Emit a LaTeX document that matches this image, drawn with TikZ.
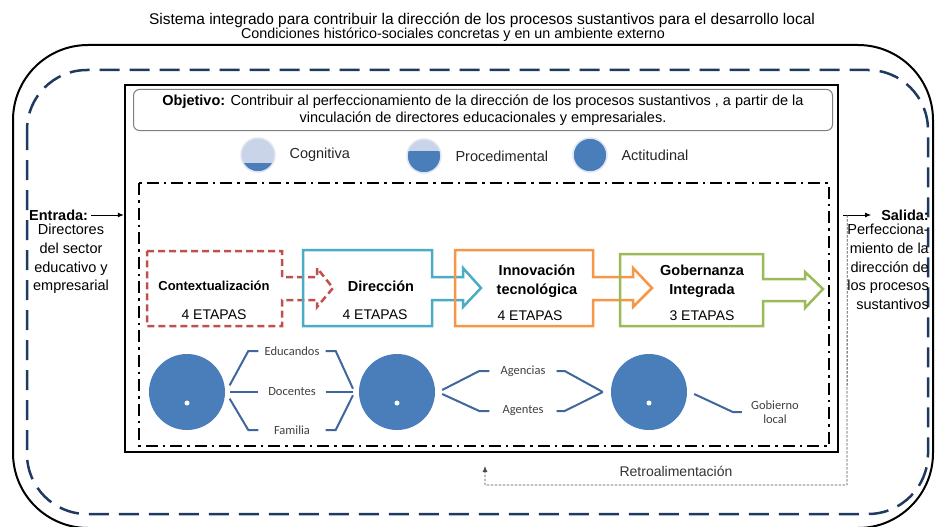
\documentclass[tikz,border=0pt]{standalone}
\usepackage{fontspec}
\setmainfont{Liberation Sans}
\newfontfamily\calfont{Carlito}
\usetikzlibrary{arrows.meta}

\definecolor{navy}{HTML}{1F3A60}
\definecolor{ctxred}{HTML}{C0504D}
\definecolor{dirblue}{HTML}{4BACC6}
\definecolor{innorange}{HTML}{F79646}
\definecolor{gobgreen}{HTML}{9BBB59}
\definecolor{dotblue}{HTML}{4A7EBB}
\definecolor{paleblue}{HTML}{C9D4E8}
\definecolor{linkblue}{HTML}{3F679B}

\tikzset{
  etapa/.style={line width=2.5pt, miter limit=10},
  etapatxt/.style={font=\bfseries\fontsize{14.5}{19}\selectfont, align=center, inner sep=0pt},
  etapanum/.style={font=\fontsize{14}{16}\selectfont, inner sep=0pt},
  bigdot/.style={circle, fill=dotblue, minimum size=76pt, inner sep=0pt},
  legdot/.style={circle, fill=paleblue, draw=paleblue!60, line width=1.5pt, minimum size=34pt, inner sep=0pt},
  legtxt/.style={font=\fontsize{14.5}{17}\selectfont, anchor=west, text=black!85},
  lbl/.style={font=\calfont\fontsize{12.5}{14}\selectfont, text=black!75, minimum width=67pt, inner sep=0pt, align=center},
  link/.style={linkblue, line width=2pt},
  sidetxt/.style={font=\fontsize{14.5}{18.7}\selectfont, inner sep=0pt},
  arr/.style={-{Latex[length=6pt,width=5pt]}, line width=0.8pt}
}

\begin{document}
\begin{tikzpicture}[x=1pt, y=-1pt]
\useasboundingbox (0,0) rectangle (935,527);

% titulo
\node[font=\fontsize{15.5}{18}\selectfont] (tit) at (482,20) {Sistema integrado para contribuir la dirección de los procesos sustantivos para el desarrollo local};
\node[font=\fontsize{14.3}{16}\selectfont] (sub) at (453,35) {Condiciones histórico-sociales concretas y en un ambiente externo};

% contornos
\draw[line width=2pt, rounded corners=75pt] (13,45) rectangle (933,528);
\draw[navy, line width=2.5pt, dash pattern=on 20pt off 10pt, rounded corners=60pt] (27,70) rectangle (928,514);
\node[draw, line width=2.5pt, minimum width=713pt, minimum height=367pt, inner sep=0pt] (sys) at (481.5,268.5) {};

% objetivo
\node[draw=gray, rounded corners=6pt, line width=1pt, minimum width=699pt, minimum height=41pt, align=center,
  font=\fontsize{14.5}{17}\selectfont] (obj) at (483,110)
  {\textbf{Objetivo:} Contribuir al perfeccionamiento de la dirección de los procesos sustantivos , a partir de la\\
   vinculación de directores educacionales y empresariales.};

% leyenda
\node[legdot, path picture={\fill[dotblue] ([yshift=-8pt]path picture bounding box.west) rectangle (path picture bounding box.south east);}] (cog) at (258,155) {};
\node[legtxt] at (286,155) {Cognitiva};
\node[legdot, path picture={\fill[dotblue] ([yshift=5pt]path picture bounding box.west) rectangle (path picture bounding box.south east);}] (proc) at (424,156) {};
\node[legtxt] at (452,156) {Procedimental};
\node[legdot, fill=dotblue] (act) at (590,155) {};
\node[legtxt] at (618,155) {Actitudinal};

% marco de etapas
\draw[line width=2.5pt, dash pattern=on 12pt off 5pt on 2.5pt off 5pt] (139,183) rectangle (829,446);

% etapas
\draw[etapa, ctxred, dash pattern=on 7pt off 4pt] (147,251) -- (282,251) -- (282,277) -- (317,277) -- (317,268) -- (333,288) -- (317,307) -- (317,300) -- (282,300) -- (282,326) -- (147,326) -- cycle;
\draw[etapa, dirblue] (303,250) -- (432,250) -- (432,277) -- (463,277) -- (463,268) -- (481,288) -- (463,307) -- (463,300) -- (432,300) -- (432,326) -- (303,326) -- cycle;
\draw[etapa, innorange] (455,250) -- (593,250) -- (593,277) -- (633,277) -- (633,268) -- (652,288) -- (633,307) -- (633,300) -- (593,300) -- (593,326) -- (455,326) -- cycle;
\draw[etapa, gobgreen] (620,254) -- (763,254) -- (763,279) -- (805,279) -- (805,272) -- (823,289) -- (805,308) -- (805,301) -- (763,301) -- (763,326) -- (620,326) -- cycle;

\node[etapatxt, font=\bfseries\fontsize{13}{15}\selectfont] (ctx) at (214,286) {Contextualización};
\node[etapanum] (ctxn) at (214,315) {4 ETAPAS};
\node[etapatxt] (dir) at (381,286) {Dirección};
\node[etapanum] (dirn) at (375,315) {4 ETAPAS};
\node[etapatxt] (inn) at (537,281) {Innovación\\tecnológica};
\node[etapanum] (innn) at (530,316) {4 ETAPAS};
\node[etapatxt] (gob) at (702,281) {Gobernanza\\Integrada};
\node[etapanum] (gobn) at (702,316) {3 ETAPAS};

% actores
\node[bigdot] (c1) at (187,392) {};
\node[bigdot] (c2) at (397,392) {};
\node[bigdot] (c3) at (649,392) {};
\foreach \c in {c1,c2,c3}
  \fill[white] ([yshift=-11pt]\c.center) circle (2.5);

\node[lbl] (edu) at (292,351) {Educandos};
\node[lbl] (doc) at (292,392) {Docentes};
\node[lbl] (fam) at (292,430) {Familia};
\node[lbl] (agc) at (523,371) {Agencias};
\node[lbl] (agt) at (523,411) {Agentes};
\node[lbl, minimum width=66pt] (gbl) at (775,412) {Gobierno\\local};

\draw[link] ([xshift=5pt]c1.10) -- ([xshift=-10pt]edu.west) -- (edu.west);
\draw[link] ([xshift=5pt]c1.east) -- (doc.west);
\draw[link] ([xshift=5pt]c1.-10) -- ([xshift=-10pt]fam.west) -- (fam.west);
\draw[link] (edu.east) -- ([xshift=10pt]edu.east) -- ([xshift=-6pt]c2.175);
\draw[link] (doc.east) -- ([xshift=-6pt]c2.west);
\draw[link] (fam.east) -- ([xshift=10pt]fam.east) -- ([xshift=-6pt]c2.-175);
\draw[link] ([xshift=7pt]c2.3) -- ([xshift=-10pt]agc.west) -- (agc.west);
\draw[link] ([xshift=7pt]c2.-3) -- ([xshift=-10pt]agt.west) -- (agt.west);
\draw[link] (agc.east) -- ([xshift=8pt]agc.east) -- ([xshift=-8pt]c3.west);
\draw[link] (agt.east) -- ([xshift=8pt]agt.east) -- ([xshift=-8pt]c3.west);
\draw[link] ([xshift=7pt]c3.-3) -- ([xshift=-9pt]gbl.west) -- (gbl.west);

% entrada y salida
\node[sidetxt, font=\bfseries\fontsize{14.5}{18}\selectfont, anchor=west] (ent) at (29,215) {Entrada:};
\node[sidetxt, align=center, anchor=north] (enttxt) at (71,224) {Directores\\del sector\\educativo y\\empresarial};
\draw[arr] ([xshift=3pt]ent.east) -- (ent.east -| sys.west);

\node[sidetxt, font=\bfseries\fontsize{14.5}{18}\selectfont, anchor=east] (sal) at (929,215) {Salida:};
\node[sidetxt, align=right, anchor=north east] (saltxt) at (929,224) {Perfecciona-\\miento de la\\dirección de\\los procesos\\sustantivos};
\coordinate (salstart) at (sal.west -| sys.east);
\draw[arr] ([xshift=4pt]salstart) -- ([xshift=-10pt]sal.west);

% retroalimentacion
\node[font=\fontsize{14}{16}\selectfont, text=black!80] (retro) at (676,471) {Retroalimentación};
\coordinate (fb0) at ([xshift=8pt]salstart);
\coordinate (fb1) at (847,485);
\coordinate (fb2) at (485,485);
\coordinate (fb3) at (485,466);
\draw[black!70, line width=0.8pt, dash pattern=on 2.5pt off 1.5pt, -{Latex[length=6pt,width=5pt]}] (fb0) -- (fb1) -- (fb2) -- (fb3);
\end{tikzpicture}
\end{document}
